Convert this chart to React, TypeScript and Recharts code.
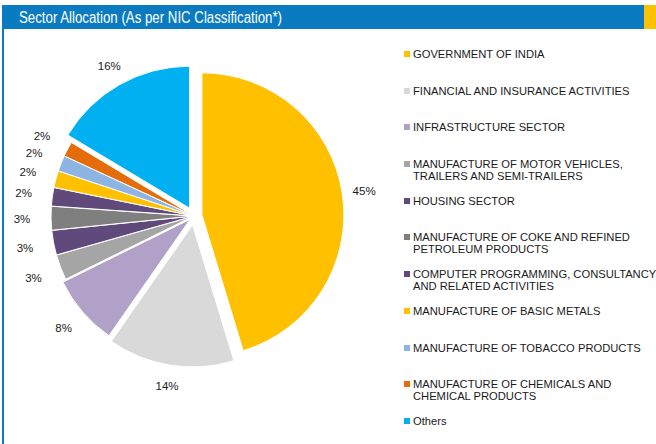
import { PieChart, Pie, Cell, Legend, Sector } from 'recharts';

const sectors = [
  'GOVERNMENT OF INDIA',
  'FINANCIAL AND INSURANCE ACTIVITIES',
  'INFRASTRUCTURE SECTOR',
  'MANUFACTURE OF MOTOR VEHICLES, TRAILERS AND SEMI-TRAILERS',
  'HOUSING SECTOR',
  'MANUFACTURE OF COKE AND REFINED PETROLEUM PRODUCTS',
  'COMPUTER PROGRAMMING, CONSULTANCY AND RELATED ACTIVITIES',
  'MANUFACTURE OF BASIC METALS',
  'MANUFACTURE OF TOBACCO PRODUCTS',
  'MANUFACTURE OF CHEMICALS AND CHEMICAL PRODUCTS',
  'Others',
];

const allocation = [45.3, 14.4, 8.0, 2.9, 2.8, 2.7, 2.1, 1.9, 1.8, 1.7, 16.4];

const colors = [
  '#FFC000', '#D9D9D9', '#B1A0C7', '#A5A5A5', '#604A7B', '#7F7F7F',
  '#604A7B', '#FFC000', '#8DB4E2', '#E46C0A', '#00B0F0',
];

// how far each slice is pulled out of the pie (px)
const explode = [8, 9, 5, 1, 1, 1, 1, 1, 1, 1, 9];

const data = sectors.map((name, i) => ({ name, value: allocation[i] }));

const RAD = Math.PI / 180;

const ExplodedSector = (props: any) => {
  const i = sectors.indexOf(props.name ?? props.payload?.name);
  const d = explode[i] ?? 0;
  const dx = d * Math.cos(-props.midAngle * RAD);
  const dy = d * Math.sin(-props.midAngle * RAD);
  return <Sector {...props} cx={props.cx + dx} cy={props.cy + dy} />;
};

const renderLabel = ({ cx, cy, midAngle, outerRadius, value }: any) => {
  const r = outerRadius + 30;
  const x = cx + r * Math.cos(-midAngle * RAD);
  const y = cy + r * Math.sin(-midAngle * RAD);
  return (
    <text x={x} y={y} textAnchor="middle" dominantBaseline="central" fontSize={11.5} fill="#1a1a1a"
      fontFamily="'Liberation Sans', Arial, sans-serif">
      {`${Math.round(value)}%`}
    </text>
  );
};

const LegendList = () => (
  <div style={{ fontFamily: "'Liberation Sans', Arial, sans-serif", fontSize: 11.2, color: '#1a1a1a' }}>
    {sectors.map((name, i) => (
      <div key={name} style={{ height: 36.7, display: 'flex', alignItems: 'flex-start' }}>
        <span style={{ width: 6, height: 6, marginTop: 3, marginRight: 3, background: colors[i], flex: 'none' }} />
        <span style={{ width: 256, lineHeight: '12px' }}>{name}</span>
      </div>
    ))}
  </div>
);

export default function App() {
  return (
    <div style={{ position: 'fixed', left: 0, top: 0, width: 656, height: 444, overflow: 'hidden', background: '#fff' }}>
      <div style={{ position: 'absolute', left: 2, top: 5, width: 642, height: 24, background: '#0B7BC1' }} />
      <div style={{ position: 'absolute', left: 644, top: 5, width: 12, height: 24, background: '#FFC000' }} />
      <div style={{ position: 'absolute', left: 2, top: 29, width: 2, height: 415, background: '#0B7BC1' }} />
      <svg style={{ position: 'absolute', left: 0, top: 0 }} width={656} height={30}>
        <text x={19} y={22.5} fill="#fff" fontSize={16} textLength={263} lengthAdjust="spacingAndGlyphs"
          fontFamily="'Liberation Sans', Arial, sans-serif">
          Sector Allocation (As per NIC Classification*)
        </text>
      </svg>
      <div style={{ position: 'absolute', left: 0, top: 0 }}>
        <PieChart width={656} height={444} margin={{ top: 0, right: 0, bottom: 0, left: 0 }}>
          <Pie
            data={data}
            dataKey="value"
            nameKey="name"
            cx={194}
            cy={216}
            outerRadius={142}
            startAngle={90}
            endAngle={-270}
            stroke="#fff"
            strokeWidth={1}
            label={renderLabel}
            labelLine={false}
            shape={ExplodedSector}
            isAnimationActive={false}
          >
            {data.map((d, i) => <Cell key={d.name} fill={colors[i]} />)}
          </Pie>
          <Legend
            layout="vertical"
            align="right"
            verticalAlign="top"
            content={<LegendList />}
            wrapperStyle={{ left: 404, top: 48, width: 270 }}
          />
        </PieChart>
      </div>
    </div>
  );
}
